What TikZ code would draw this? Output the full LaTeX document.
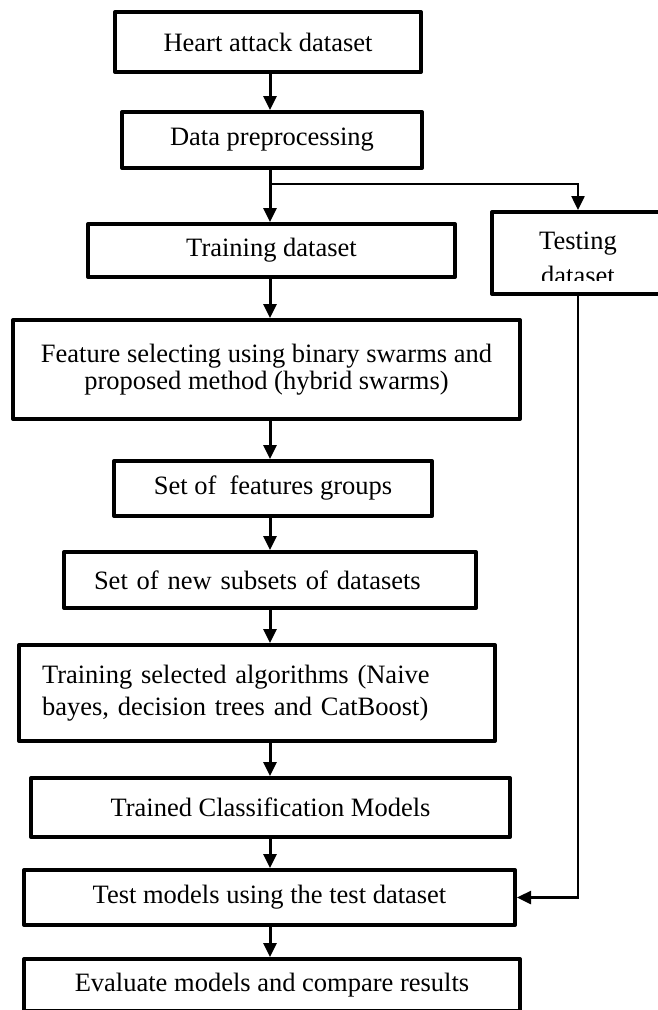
\documentclass[tikz,border=0pt]{standalone}
\usepackage{fontspec}
\setmainfont{Liberation Serif}
\usetikzlibrary{arrows.meta}
\begin{document}
\begin{tikzpicture}[x=1pt,y=-1pt,
  box/.style={draw, line width=4pt, line join=round, inner sep=0pt,
    align=center, font=\fontsize{26.5}{30}\selectfont},
  tip/.style={-{Triangle[length=14pt,width=13pt]}},
  flow/.style={line width=3pt, tip},
  trunk/.style={line width=3pt},
  link/.style={line width=2.5pt}]
\useasboundingbox (0,0) rectangle (658,1010);

% process boxes, top to bottom
\node[box, minimum width=306pt, minimum height=60pt] (heart) at (268,42) {Heart attack dataset};
\node[box, minimum width=300pt, minimum height=56pt] (prep) at (272,140) {Data preprocessing};
\node[box, minimum width=367pt, minimum height=53pt] (train) at (271.5,250.5) {Training dataset};
\node[box, minimum width=172pt, minimum height=82pt] (testset) at (578,253) {};
\begin{scope}
  \clip (494,214) rectangle (662,280);
  \node[align=center, inner sep=0pt, font=\fontsize{26.5}{30}\selectfont] (testsetlabel) at (578,258.5) {Testing\\[5pt]dataset};
\end{scope}
\node[box, minimum width=507pt, minimum height=99pt] (feat) at (266.5,369.5)
  {Feature selecting using binary swarms and\\[-3pt]proposed method (hybrid swarms)};
\node[box, minimum width=318pt, minimum height=55pt] (groups) at (273,488.5) {Set of\ \ features groups};
\node[box, minimum width=412pt, minimum height=56pt, align=left, text width=352pt, inner xsep=30pt]
  (subsets) at (270,580) {Set of new subsets of datasets};
\node[box, minimum width=476pt, minimum height=96pt, align=left, text width=430pt, inner xsep=23pt]
  (algos) at (257,693) {Training selected algorithms (Naive\\[2pt]bayes, decision trees and CatBoost)};
\node[box, minimum width=479pt, minimum height=59pt] (models) at (270.5,807.5) {Trained Classification Models};
\node[box, minimum width=491pt, minimum height=55pt] (testrun) at (269.5,897.5) {Test models using the test dataset};
\node[box, minimum width=496pt, minimum height=52pt] (compare) at (272,985) {Evaluate models and compare results};

% connectors
\coordinate (spine) at (270,0);
\coordinate (split) at (270,184);
\draw[flow] (heart.south -| spine) -- (prep.north -| spine);
\draw[trunk] (prep.south -| spine) -- (split);
\draw[flow] (split) -- (train.north -| spine);
\draw[link, tip] (split) -| (testset.north);
\draw[flow] (train.south -| spine) -- (feat.north -| spine);
\draw[flow] (feat.south -| spine) -- (groups.north -| spine);
\draw[flow] (groups.south -| spine) -- (subsets.north -| spine);
\draw[flow] (subsets.south -| spine) -- (algos.north -| spine);
\draw[flow] (algos.south -| spine) -- (models.north -| spine);
\draw[flow] (models.south -| spine) -- (testrun.north -| spine);
\draw[flow] (testrun.south -| spine) -- (compare.north -| spine);
\draw[link, tip] (testset.south) |- (testrun.east);
\end{tikzpicture}
\end{document}
